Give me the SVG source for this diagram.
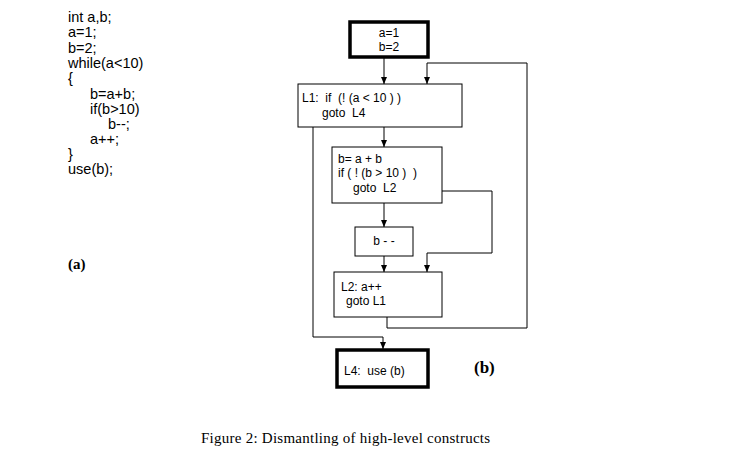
<svg xmlns="http://www.w3.org/2000/svg" width="734" height="458" viewBox="0 0 734 458">
<style>
.code{font-family:"Liberation Sans",Arial,sans-serif;font-size:14.5px;fill:#000}
.t{font-family:"Liberation Sans",Arial,sans-serif;font-size:12px;fill:#000}
.box{fill:#fff;stroke:#000;stroke-width:1}
.thick{fill:#fff;stroke:#000;stroke-width:3.5}
.ln{fill:none;stroke:#000;stroke-width:1}
.lab{font-family:"Liberation Serif","Times New Roman",serif;font-weight:bold;font-size:17px;fill:#000}
.cap{font-family:"Liberation Serif","Times New Roman",serif;font-size:15px;letter-spacing:0.25px;fill:#000}
</style>
<defs>
<marker id="ah" markerWidth="8" markerHeight="8" refX="7" refY="4" orient="auto" markerUnits="userSpaceOnUse">
<path d="M0,1 L7,4 L0,7 Z" fill="#000"/>
</marker>
</defs>
<rect width="734" height="458" fill="#fff"/>
<g id="code">
<text class="code" x="68" y="22">int a,b;</text>
<text class="code" x="68" y="37">a=1;</text>
<text class="code" x="68" y="52.5">b=2;</text>
<text class="code" x="68" y="68">while(a&lt;10)</text>
<text class="code" x="68" y="83">{</text>
<text class="code" x="90" y="99">b=a+b;</text>
<text class="code" x="90" y="114">if(b&gt;10)</text>
<text class="code" x="108" y="129">b--;</text>
<text class="code" x="90" y="144">a++;</text>
<text class="code" x="68" y="159">}</text>
<text class="code" x="68" y="174">use(b);</text>
</g>
<text class="lab" x="68" y="269" style="font-size:15px">(a)</text>
<g id="connectors">
<line class="ln" x1="384" y1="57" x2="384" y2="84" marker-end="url(#ah)"/>
<polyline class="ln" points="387,317 387,328 527,328 527,63 427,63 427,84" marker-end="url(#ah)"/>
<line class="ln" x1="384" y1="127" x2="384" y2="147" marker-end="url(#ah)"/>
<polyline class="ln" points="313,127 313,337 383,337 383,349" marker-end="url(#ah)"/>
<polyline class="ln" points="442,191 492,191 492,253 427,253 427,272" marker-end="url(#ah)"/>
<line class="ln" x1="384" y1="203" x2="384" y2="227" marker-end="url(#ah)"/>
<line class="ln" x1="384" y1="256" x2="384" y2="272" marker-end="url(#ah)"/>
</g>
<g id="n_start">
<rect class="thick" x="350" y="22" width="78" height="35"/>
<text class="t" x="389" y="37" text-anchor="middle">a=1</text>
<text class="t" x="389" y="51" text-anchor="middle">b=2</text>
</g>
<g id="n_L1">
<rect class="box" x="298" y="84" width="164" height="43"/>
<text class="t" x="302" y="102" xml:space="preserve">L1:  if  (! (a &lt; 10 ) )</text>
<text class="t" x="322" y="117" xml:space="preserve">goto  L4</text>
</g>
<g id="n_body">
<rect class="box" x="332" y="147" width="110" height="56"/>
<text class="t" x="338" y="163" xml:space="preserve">b= a + b</text>
<text class="t" x="338" y="177" xml:space="preserve">if ( ! (b &gt; 10 )  )</text>
<text class="t" x="353" y="192" xml:space="preserve">goto  L2</text>
</g>
<g id="n_bdec">
<rect class="box" x="355" y="227" width="58" height="29"/>
<text class="t" x="384" y="245" text-anchor="middle" xml:space="preserve">b - -</text>
</g>
<g id="n_L2">
<rect class="box" x="334" y="272" width="108" height="45"/>
<text class="t" x="341" y="291" xml:space="preserve">L2: a++</text>
<text class="t" x="346" y="305" xml:space="preserve">goto L1</text>
</g>
<g id="n_L4">
<rect class="thick" x="337" y="350" width="91" height="37"/>
<text class="t" x="344" y="375" xml:space="preserve">L4:  use (b)</text>
</g>
<text class="lab" x="474" y="373">(b)</text>
<text class="cap" x="201" y="443">Figure 2: Dismantling of high-level constructs</text>
</svg>
